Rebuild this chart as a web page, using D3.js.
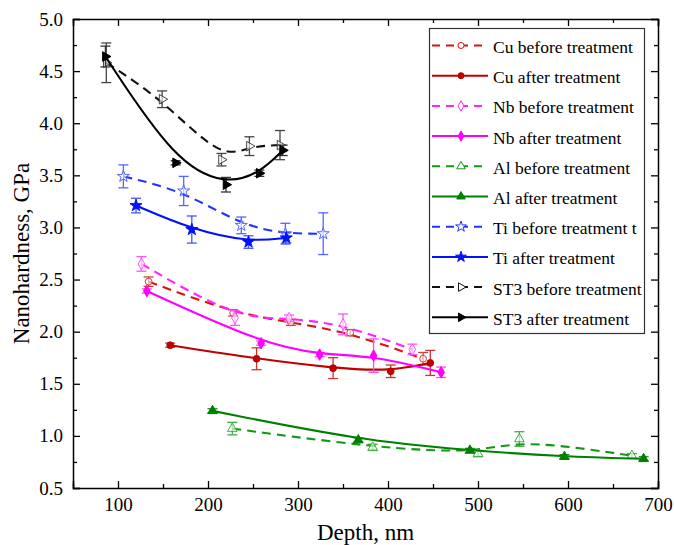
<!DOCTYPE html>
<html><head><meta charset="utf-8">
<script src="https://cdn.jsdelivr.net/npm/d3@7"></script>
<style>body{margin:0;background:#fff}svg{display:block}text{font-family:"Liberation Serif","Times New Roman",Times,serif;fill:#000}</style>
</head><body><svg id="c" width="674" height="545"></svg>
<script>
// ---- data ----
const cuBeforeX = [134, 228, 292, 358, 439];
const cuBeforeY = [2.48, 2.18, 2.09, 1.99, 1.74];
const cuBeforeErr = [0.045, 0.03, 0.03, 0.03, 0.06];
const cuAfterX = [158, 254, 339, 403, 447];
const cuAfterY = [1.87, 1.74, 1.65, 1.62, 1.70];
const cuAfterErr = [0.02, 0.105, 0.1, 0.06, 0.12];
const nbBeforeX = [126, 230, 290, 350, 427];
const nbBeforeY = [2.65, 2.13, 2.13, 2.07, 1.83];
const nbBeforeErr = [0.07, 0.07, 0.03, 0.1, 0.05];
const nbAfterX = [132, 259, 324, 384, 459];
const nbAfterY = [2.39, 1.89, 1.78, 1.77, 1.61];
const nbAfterErr = [0.02, 0.02, 0.02, 0.16, 0.05];
const alBeforeX = [227, 383, 500, 546, 671];
const alBeforeY = [1.07, 0.89, 0.83, 0.97, 0.81];
const alBeforeErr = [0.06, 0.03, 0.03, 0.07, 0.02];
const alAfterX = [205, 367, 491, 596, 684];
const alAfterY = [1.24, 0.96, 0.86, 0.80, 0.78];
const alAfterErr = [0.02, 0.02, 0.02, 0.02, 0.02];
const tiBeforeX = [106, 173, 237, 286, 328];
const tiBeforeY = [3.49, 3.35, 3.02, 2.94, 2.94];
const tiBeforeErr = [0.11, 0.14, 0.08, 0.1, 0.2];
const tiAfterX = [120, 182, 245, 287];
const tiAfterY = [3.21, 2.98, 2.86, 2.90];
const tiAfterErr = [0.07, 0.13, 0.06, 0.05];
const st3BeforeX = [87, 149, 215, 246, 280];
const st3BeforeY = [4.58, 4.23, 3.65, 3.78, 3.79];
const st3BeforeErr = [0.19, 0.08, 0.06, 0.09, 0.14];
const st3AfterX = [86, 164, 220, 257, 283];
const st3AfterY = [4.64, 3.62, 3.41, 3.52, 3.74];
const st3AfterErr = [0.1, 0.02, 0.07, 0.03, 0.05];
const xTicks = [100, 200, 300, 400, 500, 600, 700];
const yTicks = [0.5, 1.0, 1.5, 2.0, 2.5, 3.0, 3.5, 4.0, 4.5, 5.0];
const xLabel = "Depth, nm";
const yLabel = "Nanohardness, GPa";

const series = [
  {name:"Cu before treatment", x:cuBeforeX, y:cuBeforeY, e:cuBeforeErr, color:"#dd1111", ecolor:"#d04040", dash:true, sym:"circle"},
  {name:"Cu after treatment", x:cuAfterX, y:cuAfterY, e:cuAfterErr, color:"#c00000", ecolor:"#cc3333", dash:false, sym:"circle"},
  {name:"Nb before treatment", x:nbBeforeX, y:nbBeforeY, e:nbBeforeErr, color:"#ff22ff", ecolor:"#ff55ff", dash:true, sym:"diamond"},
  {name:"Nb after treatment", x:nbAfterX, y:nbAfterY, e:nbAfterErr, color:"#ff00ff", ecolor:"#ff44ff", dash:false, sym:"diamond"},
  {name:"Al before treatment", x:alBeforeX, y:alBeforeY, e:alBeforeErr, color:"#119911", ecolor:"#44aa44", dash:true, sym:"triUp"},
  {name:"Al after treatment", x:alAfterX, y:alAfterY, e:alAfterErr, color:"#008000", ecolor:"#228822", dash:false, sym:"triUp"},
  {name:"Ti before treatment  t", x:tiBeforeX, y:tiBeforeY, e:tiBeforeErr, color:"#2233ff", ecolor:"#5566ff", dash:true, sym:"star"},
  {name:"Ti after treatment", x:tiAfterX, y:tiAfterY, e:tiAfterErr, color:"#0011ff", ecolor:"#4455ff", dash:false, sym:"star"},
  {name:"ST3 before treatment", x:st3BeforeX, y:st3BeforeY, e:st3BeforeErr, color:"#111111", ecolor:"#444444", dash:true, sym:"triRight"},
  {name:"ST3 after treatment", x:st3AfterX, y:st3AfterY, e:st3AfterErr, color:"#000000", ecolor:"#333333", dash:false, sym:"triRight"}
];

const svg = d3.select("#c");
const L = 73, R = 658, T = 19, B = 488;
const x = d3.scaleLinear().domain([50, 700]).range([L, R]);
const y = d3.scaleLinear().domain([0.5, 5.0]).range([B, T]);

function drawAxes(){
  const g = svg.append("g");
  const xMinor = d3.range(50, 701, 50).filter(v=>v%100!==0);
  const yMinor = d3.range(0.75, 5.0, 0.5);
  g.append("g").attr("transform",`translate(0,${B})`)
    .call(d3.axisBottom(x).tickValues(xTicks).tickSize(-7).tickPadding(10).tickFormat(d3.format("d")));
  g.append("g").attr("transform",`translate(0,${T})`)
    .call(d3.axisTop(x).tickValues(xTicks).tickSize(-7).tickFormat(""));
  g.append("g").attr("transform",`translate(${L},0)`)
    .call(d3.axisLeft(y).tickValues(yTicks).tickSize(-7).tickPadding(10).tickFormat(d3.format(".1f")));
  g.append("g").attr("transform",`translate(${R},0)`)
    .call(d3.axisRight(y).tickValues(yTicks).tickSize(-7).tickFormat(""));
  g.append("g").attr("transform",`translate(0,${B})`).call(d3.axisBottom(x).tickValues(xMinor).tickSize(-4).tickFormat("")).select(".domain").remove();
  g.append("g").attr("transform",`translate(0,${T})`).call(d3.axisTop(x).tickValues(xMinor).tickSize(-4).tickFormat("")).select(".domain").remove();
  g.append("g").attr("transform",`translate(${L},0)`).call(d3.axisLeft(y).tickValues(yMinor).tickSize(-4).tickFormat("")).select(".domain").remove();
  g.append("g").attr("transform",`translate(${R},0)`).call(d3.axisRight(y).tickValues(yMinor).tickSize(-4).tickFormat("")).select(".domain").remove();
  g.selectAll(".domain").attr("stroke","#000").attr("stroke-width",1.5);
  g.selectAll(".tick line").attr("stroke","#000").attr("stroke-width",1.3);
  g.selectAll(".tick text").attr("font-size",19).attr("fill","#000");
  svg.append("text").attr("x",(L+R)/2).attr("y",540).attr("text-anchor","middle").attr("font-size",23).text(xLabel);
  svg.append("text").attr("transform",`translate(29,${(T+B)/2}) rotate(-90)`).attr("text-anchor","middle").attr("font-size",23).text(yLabel);
}

function symPath(sym, s){
  const sc = s || 1;
  if (sym==="circle") return d3.symbol(d3.symbolCircle, 36*sc)();
  if (sym==="diamond") return d3.symbol(d3.symbolDiamond, 38*sc)();
  if (sym==="star") return d3.symbol(d3.symbolStar, 45*sc)();
  return d3.symbol(d3.symbolTriangle, 40*sc)();
}
function symRot(sym){ return sym==="triRight" ? 90 : 0; }

drawAxes();

const line = d3.line().curve(d3.curveBasis).x(d=>x(d[0])).y(d=>y(d[1]));
const plot = svg.append("g");

series.forEach(s=>{
  const pts = s.x.map((v,i)=>[v, s.y[i], s.e[i]]);
  const g = plot.append("g");
  pts.forEach(p=>{
    const cx = x(p[0]), y1 = y(p[1]-p[2]), y2 = y(p[1]+p[2]);
    g.append("line").attr("x1",cx).attr("x2",cx).attr("y1",y1).attr("y2",y2).attr("stroke",s.ecolor).attr("stroke-width",1.3);
    [y1,y2].forEach(yy=>g.append("line").attr("x1",cx-5).attr("x2",cx+5).attr("y1",yy).attr("y2",yy).attr("stroke",s.ecolor).attr("stroke-width",1.3));
  });
  g.append("path").datum(pts).attr("d",line).attr("fill","none").attr("stroke",s.color)
    .attr("stroke-width",2.1).attr("stroke-dasharray",s.dash?"9,6":null);
  g.selectAll("path.m").data(pts).join("path").attr("class","m")
    .attr("d",symPath(s.sym))
    .attr("transform",d=>`translate(${x(d[0])},${y(d[1])}) rotate(${symRot(s.sym)})`)
    .attr("fill",s.dash?"#fff":s.color).attr("fill-opacity",s.dash?0.6:1)
    .attr("stroke",s.dash?s.ecolor:s.color).attr("stroke-width",1);
});

const lg = svg.append("g");
lg.append("rect").attr("x",429.5).attr("y",28.5).attr("width",215).attr("height",305)
  .attr("fill","#fff").attr("stroke","#333").attr("stroke-width",1.2);
series.forEach((s,i)=>{
  const by = 53 + i*30.2;
  const ly = by - 7.5;
  lg.append("line").attr("x1",432).attr("x2",488).attr("y1",ly).attr("y2",ly)
    .attr("stroke",s.color).attr("stroke-width",2).attr("stroke-dasharray",s.dash?"8,6":null);
  lg.append("path").attr("d",symPath(s.sym,0.8))
    .attr("transform",`translate(461,${ly}) rotate(${symRot(s.sym)})`)
    .attr("fill",s.dash?"#fff":s.color).attr("stroke",s.color).attr("stroke-width",1);
  lg.append("text").attr("x",493).attr("y",by).attr("font-size",17.5).text(s.name);
});
</script></body></html>
